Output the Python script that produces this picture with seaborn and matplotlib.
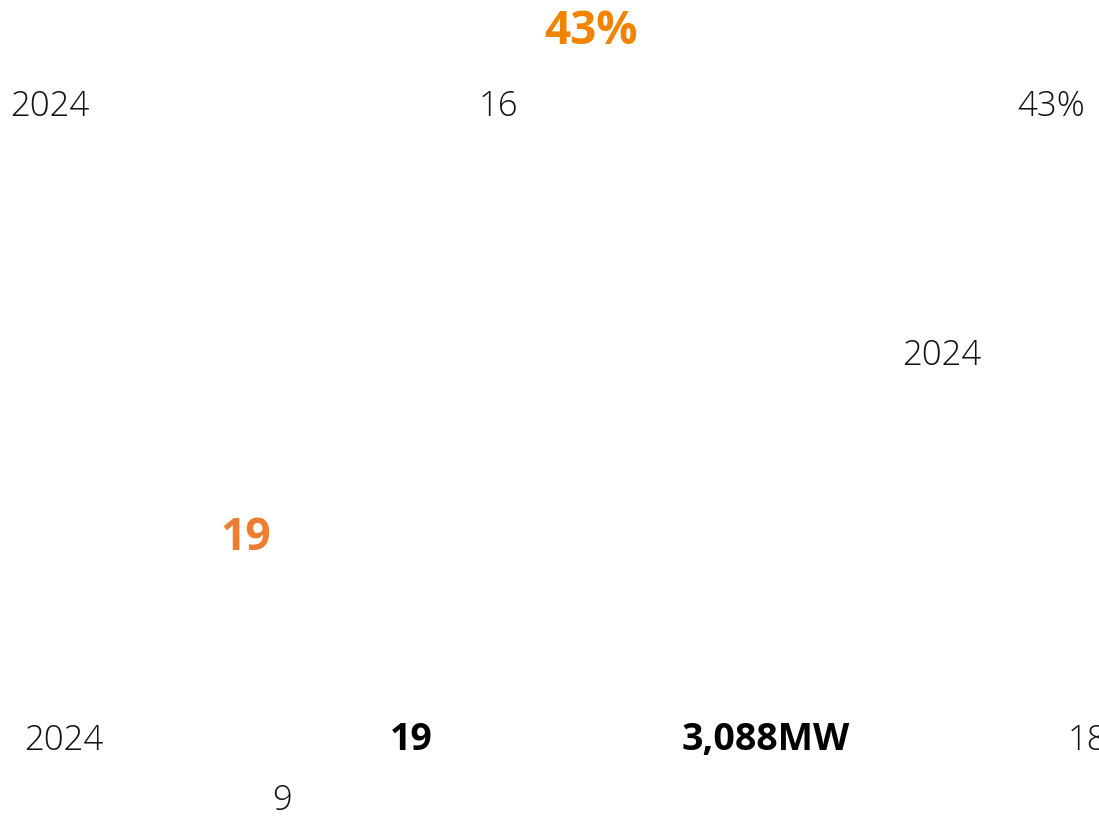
import matplotlib
matplotlib.use("Agg")
import matplotlib.pyplot as plt
import seaborn as sns

sns.set_theme(style="white")
plt.rcParams['font.family'] = ['Open Sans', 'DejaVu Sans']

# texts that survive in the infographic
light_texts = ['2024', '16', '43%', '2024', '2024', '18', '9']
light_x = [10, 479, 1017, 902, 24, 1068, 272]
light_y = [107, 107, 107, 356, 741, 741, 801]

bold_texts = ['43%', '19', '19', '3,088MW']
bold_x = [591, 246, 411, 766]
bold_y = [31, 539, 740, 740]
bold_colors = ['#F08300', '#ED7D31', '#000000', '#000000']
bold_sizes = [33, 32, 27, 27]

fig, ax = plt.subplots(figsize=(10.99, 8.18), dpi=100)
fig.subplots_adjust(left=0, right=1, bottom=0, top=1)
ax.set_xlim(0, 1099)
ax.set_ylim(818, 0)
ax.axis('off')

for t, x, y in zip(light_texts, light_x, light_y):
    ax.text(x, y, t, ha='left', va='center', fontsize=25, fontweight='light', color='#111111')

for t, x, y, c, s in zip(bold_texts, bold_x, bold_y, bold_colors, bold_sizes):
    ax.text(x, y, t, ha='center', va='center', fontsize=s, fontweight='bold', color=c)

fig.savefig('out.png', dpi=100, facecolor='white')
